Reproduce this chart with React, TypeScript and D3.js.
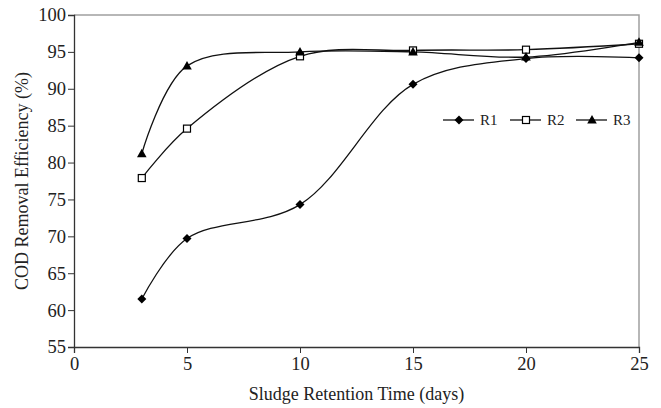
import { useEffect, useRef } from "react";
import * as d3 from "d3";

const days = [3, 5, 10, 15, 20, 25];
const r1 = [61.5, 69.7, 74.3, 90.6, 94.1, 94.2];
const r2 = [77.9, 84.6, 94.4, 95.2, 95.3, 96.1];
const r3 = [81.2, 93.1, 95.0, 95.0, 94.3, 96.3];
const seriesNames = ["R1", "R2", "R3"];
const xTicks = [0, 5, 10, 15, 20, 25];
const yTicks = [55, 60, 65, 70, 75, 80, 85, 90, 95, 100];

const W = 661;
const H = 408;
const FONT = "'Liberation Serif', 'Times New Roman', serif";

function drawMarker(g: any, type: string, x: number, y: number) {
  if (type === "R1") {
    g.append("path")
      .attr("d", "M0,-4.5L4.5,0L0,4.5L-4.5,0Z")
      .attr("transform", `translate(${x},${y})`)
      .attr("fill", "#000");
  } else if (type === "R2") {
    g.append("rect")
      .attr("x", x - 3.5).attr("y", y - 3.5)
      .attr("width", 7).attr("height", 7)
      .attr("fill", "#fff").attr("stroke", "#000").attr("stroke-width", 1.2);
  } else {
    g.append("path")
      .attr("d", "M0,-5L4.8,3.5L-4.8,3.5Z")
      .attr("transform", `translate(${x},${y})`)
      .attr("fill", "#000");
  }
}

export default function App() {
  const ref = useRef<SVGSVGElement>(null);

  useEffect(() => {
    const svg = d3.select(ref.current);
    svg.selectAll("*").remove();

    const x = d3.scaleLinear().domain([0, 25]).range([74, 639]);
    const y = d3.scaleLinear().domain([55, 100]).range([347, 15]);

    // plot border (top + right)
    svg.append("path")
      .attr("d", `M${x(0)},${y(100)}H${x(25)}V${y(55)}`)
      .attr("fill", "none").attr("stroke", "#a0a0a0").attr("stroke-width", 1.5);

    const yAxis = svg.append("g")
      .attr("transform", `translate(${x(0)},0)`)
      .call(d3.axisLeft(y).tickValues(yTicks).tickSize(6).tickPadding(2));
    yAxis.select(".domain").attr("stroke", "#333").attr("stroke-width", 1.3);
    yAxis.selectAll(".tick line").attr("stroke", "#333");
    yAxis.selectAll("text").attr("font-family", FONT).attr("font-size", 18.5).attr("fill", "#222");

    const xAxis = svg.append("g")
      .attr("transform", `translate(0,${y(55)})`)
      .call(d3.axisBottom(x).tickValues(xTicks).tickSize(6).tickPadding(4));
    xAxis.select(".domain").attr("stroke", "#333").attr("stroke-width", 1.3);
    xAxis.selectAll(".tick line").attr("stroke", "#333");
    xAxis.selectAll("text").attr("font-family", FONT).attr("font-size", 18.5).attr("fill", "#222");

    svg.append("text")
      .attr("x", (x(0) + x(25)) / 2).attr("y", 400)
      .attr("text-anchor", "middle")
      .attr("font-family", FONT).attr("font-size", 18).attr("fill", "#222")
      .text("Sludge Retention Time (days)");

    svg.append("text")
      .attr("transform", `translate(28,${(y(55) + y(100)) / 2}) rotate(-90)`)
      .attr("text-anchor", "middle")
      .attr("font-family", FONT).attr("font-size", 18).attr("fill", "#222")
      .text("COD Removal Efficiency (%)");

    const line = d3.line<number>()
      .x((_, i) => x(days[i]))
      .y((d) => y(d))
      .curve(d3.curveCatmullRom.alpha(0.5));

    const all = [r1, r2, r3];
    const g = svg.append("g");
    all.forEach((vals) => {
      g.append("path")
        .attr("d", line(vals))
        .attr("fill", "none").attr("stroke", "#111").attr("stroke-width", 1.3);
    });
    all.forEach((vals, si) => {
      vals.forEach((v, i) => drawMarker(g, seriesNames[si], x(days[i]), y(v)));
    });

    // legend
    const legendX = [443, 510, 576];
    const lg = svg.append("g");
    seriesNames.forEach((name, i) => {
      const lx = legendX[i];
      lg.append("line")
        .attr("x1", lx).attr("x2", lx + 31).attr("y1", 120).attr("y2", 120)
        .attr("stroke", "#111").attr("stroke-width", 1.3);
      drawMarker(lg, name, lx + 16, 120);
      lg.append("text")
        .attr("x", lx + 37).attr("y", 125)
        .attr("font-family", FONT).attr("font-size", 15).attr("fill", "#222")
        .text(name);
    });
  }, []);

  return (
    <svg
      ref={ref}
      width={W}
      height={H}
      style={{ position: "absolute", left: 0, top: 0, background: "#fff" }}
    />
  );
}
